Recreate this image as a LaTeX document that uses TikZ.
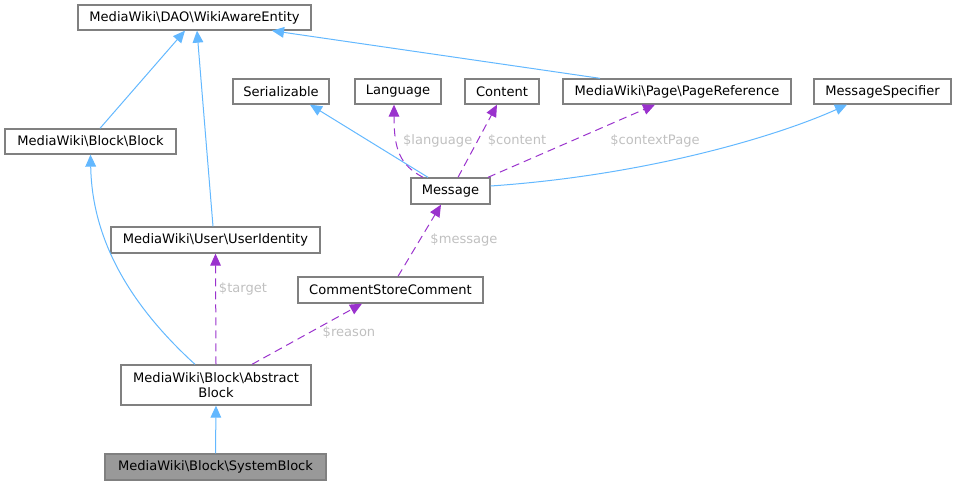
\documentclass[tikz,border=0pt]{standalone}
\usepackage{fontspec}
\setmainfont{DejaVu Sans}
\usetikzlibrary{arrows.meta,calc}
\definecolor{edgeblue}{HTML}{63B8FF}
\definecolor{edgepurple}{HTML}{9A32CD}
\definecolor{boxgray}{HTML}{808080}
\definecolor{labelgray}{HTML}{C0C0C0}
\definecolor{sysfill}{HTML}{999999}
\tikzset{
  cls/.style={draw=boxgray, line width=1pt, rectangle, inner sep=0pt, align=center,
    font=\fontsize{9.8pt}{11.5pt}\selectfont, text=black},
  inherit/.style={draw=edgeblue, line width=0.75pt, -{Triangle[length=9pt,width=8pt]}},
  usage/.style={draw=edgepurple, line width=0.75pt, dash pattern=on 6pt off 3.75pt,
    -{Triangle[length=9pt,width=8pt]}},
  lbl/.style={text=labelgray, font=\fontsize{9.8pt}{11.5pt}\selectfont, inner sep=0pt},
}
\newcommand{\bs}{\textbackslash}
\begin{document}
\begin{tikzpicture}[x=0.75pt,y=-0.75pt]
\useasboundingbox (0,0) rectangle (956,485);
% nodes
\node[cls, minimum width=233*0.75pt, minimum height=25*0.75pt] (wae) at (194.5,17.5) {MediaWiki\bs DAO\bs WikiAwareEntity};
\node[cls, minimum width=171*0.75pt, minimum height=25*0.75pt] (blk) at (90.5,141.5) {MediaWiki\bs Block\bs Block};
\node[cls, minimum width=96*0.75pt, minimum height=25*0.75pt] (ser) at (281,91.5) {Serializable};
\node[cls, minimum width=86*0.75pt, minimum height=25*0.75pt] (lang) at (398,91.5) {Language};
\node[cls, minimum width=74*0.75pt, minimum height=25*0.75pt] (cont) at (502,91.5) {Content};
\node[cls, minimum width=228*0.75pt, minimum height=25*0.75pt] (pref) at (677,91.5) {MediaWiki\bs Page\bs PageReference};
\node[cls, minimum width=137*0.75pt, minimum height=25*0.75pt] (mspec) at (882.5,91.5) {MessageSpecifier};
\node[cls, minimum width=79*0.75pt, minimum height=26*0.75pt] (msg) at (450.5,191) {Message};
\node[cls, minimum width=209*0.75pt, minimum height=26*0.75pt] (uid) at (215.5,240) {MediaWiki\bs User\bs UserIdentity};
\node[cls, minimum width=185*0.75pt, minimum height=26*0.75pt] (csc) at (390.5,290) {CommentStoreComment};
\node[cls, minimum width=190*0.75pt, minimum height=40*0.75pt] (abs) at (216,385) {MediaWiki\bs Block\bs Abstract\\Block};
\node[cls, fill=sysfill, minimum width=221*0.75pt, minimum height=26*0.75pt] (sys) at (215.5,467) {MediaWiki\bs Block\bs SystemBlock};
% inheritance edges
\draw[inherit] ($(blk.north)+(9.5,0)$) -- ($(wae.south)+(-9.5,0)$);
\draw[inherit] ($(uid.north)+(-2.5,0)$) -- ($(wae.south)+(2.5,0)$);
\draw[inherit] ($(pref.north)+(-77,0)$) -- ($(wae.south)+(77.5,0)$);
\draw[inherit] ($(abs.north)+(-21,0)$) .. controls (130,305) and (92,240) .. (blk.south);
\draw[inherit] (sys.north) -- (abs.south);
\draw[inherit] ($(msg.north)+(-22.5,0)$) -- ($(ser.south)+(29,0)$);
\draw[inherit] ($(msg.east)+(0,-5)$) .. controls (650,175) and (780,135) .. ($(mspec.south)+(-35.5,0)$);
% usage edges
\draw[usage] ($(msg.north)+(-27.5,0)$) .. controls (400,165) and (394,150) .. ($(lang.south)+(-4,0)$);
\draw[usage] ($(msg.north)+(7.5,0)$) -- ($(cont.south)+(-5,0)$);
\draw[usage] ($(msg.north)+(37.5,0)$) -- ($(pref.south)+(-22,0)$);
\draw[usage] ($(csc.north)+(7.5,0)$) -- ($(msg.south)+(-9.5,0)$);
\draw[usage] (abs.north) -- (uid.south);
\draw[usage] ($(abs.north)+(36,0)$) -- ($(csc.south)+(-28.5,0)$);
% labels
\node[lbl] (llang) at (437.7,140.7) {\$language};
\node[lbl] (lcont) at (517,140.7) {\$content};
\node[lbl] (lctx) at (655,140.7) {\$contextPage};
\node[lbl] (lmsg) at (464,240) {\$message};
\node[lbl] (ltgt) at (243,288.7) {\$target};
\node[lbl] (lrsn) at (349,332.7) {\$reason};
\end{tikzpicture}
\end{document}
